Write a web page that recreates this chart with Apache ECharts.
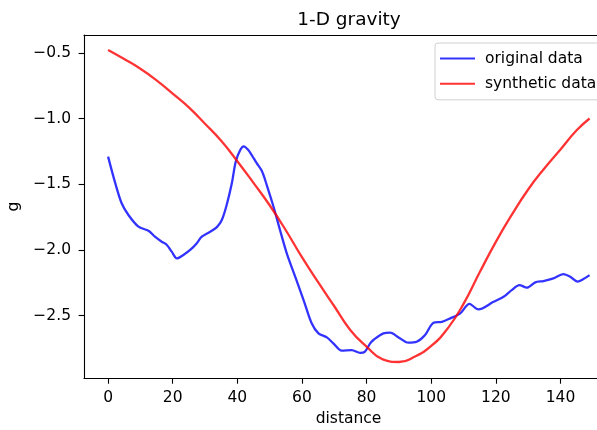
<!DOCTYPE html>
<html>
<head>
<meta charset="utf-8">
<title>1-D gravity</title>
<script src="https://cdn.jsdelivr.net/npm/echarts@6/dist/echarts.min.js"></script>
<style>
  html, body { margin: 0; padding: 0; background: #fff; overflow: hidden; }
  #chart { width: 597px; height: 430px; }
</style>
</head>
<body>
<div id="chart"></div>
<script>
// Observed gravity profile
const originalDistance = [0, 2.2, 4.2, 6.3, 9.4, 12.5, 14.5, 16.6, 18.2, 19.7, 21.3, 23.3, 25.4, 27.4, 29.0, 31.6, 33.6, 35.2, 36.7, 38.3, 39.5, 40.9, 42.0, 43.4, 44.5, 46.0, 47.6, 49.1, 51.2, 53.2, 55.3, 57.9, 60.5, 63.0, 65.1, 67.7, 69.7, 72.3, 75.4, 78.0, 79.5, 81.1, 82.1, 85.2, 87.3, 89.9, 92.9, 95.5, 98.1, 100.7, 103.3, 105.9, 109.0, 111.8, 114.6, 119.3, 122.4, 124.9, 127.3, 129.6, 132.2, 134.7, 137.8, 140.9, 143.0, 145.3, 147.1, 149];
const originalG = [-1.29, -1.49, -1.645, -1.734, -1.823, -1.854, -1.899, -1.937, -1.962, -2.013, -2.064, -2.038, -2.0, -1.95, -1.899, -1.861, -1.828, -1.772, -1.658, -1.493, -1.329, -1.24, -1.212, -1.24, -1.28, -1.34, -1.40, -1.506, -1.671, -1.848, -2.026, -2.203, -2.381, -2.558, -2.634, -2.665, -2.71, -2.766, -2.761, -2.782, -2.773, -2.71, -2.685, -2.634, -2.629, -2.665, -2.705, -2.698, -2.647, -2.553, -2.546, -2.52, -2.482, -2.41, -2.452, -2.394, -2.356, -2.305, -2.267, -2.287, -2.246, -2.236, -2.216, -2.183, -2.203, -2.241, -2.221, -2.191];

// Modelled (synthetic) gravity profile
const syntheticDistance = [0, 5, 10, 15, 20, 25, 30, 35, 40, 45, 50, 55, 60, 65, 70, 75, 80, 85, 90, 95, 100, 105, 110, 115, 120, 125, 130, 135, 140, 145, 149];
const syntheticG = [-0.479, -0.548, -0.622, -0.71, -0.81, -0.915, -1.04, -1.17, -1.325, -1.49, -1.66, -1.85, -2.055, -2.245, -2.428, -2.61, -2.735, -2.832, -2.852, -2.81, -2.73, -2.60, -2.41, -2.17, -1.938, -1.73, -1.54, -1.38, -1.235, -1.09, -1.0];

const xTicks = [0, 20, 40, 60, 80, 100, 120, 140];
const yTicks = [-2.5, -2.0, -1.5, -1.0, -0.5];

const pairs = (xs, ys) => xs.map((x, i) => [x, ys[i]]);
const FONT = 'DejaVu Sans';
const INK = '#000';
const LABEL_SIZE = 15.5;
// visible part of the distance axis; the frame's right side lies past the edge
const X_MIN = -7.45, X_MAX = 151.3;

const spine = { show: true, onZero: false, lineStyle: { color: INK, width: 1.1 } };

const chart = echarts.init(document.getElementById('chart'), null, { renderer: 'canvas' });
chart.setOption({
  animation: false,
  backgroundColor: '#fff',
  title: {
    text: '1-D gravity',
    left: 344,
    textAlign: 'center',
    top: 6,
    textStyle: { fontFamily: FONT, fontSize: 18.5, fontWeight: 'normal', color: INK }
  },
  grid: {
    left: 84, top: 35, right: 0, height: 343.3,
    outerBoundsMode: 'none'
  },
  legend: {
    orient: 'vertical',
    left: 435, top: 43,
    padding: [7.5, 20, 8, 4],
    itemWidth: 35, itemHeight: 14, itemGap: 9.3,
    borderColor: '#d0d0d0', borderWidth: 1, borderRadius: 3,
    backgroundColor: 'rgba(255,255,255,0.8)',
    itemStyle: { opacity: 0 },
    textStyle: { fontFamily: FONT, fontSize: LABEL_SIZE, color: INK, lineHeight: 14, padding: [0, 0, 0, 5] },
    data: ['original data', 'synthetic data']
  },
  xAxis: [
    {
      type: 'value',
      position: 'bottom',
      min: X_MIN, max: X_MAX,
      name: 'distance',
      nameLocation: 'middle',
      nameGap: 33,
      // centre the title under the full frame, which extends past the edge
      nameTextStyle: { fontFamily: FONT, fontSize: LABEL_SIZE, color: INK, padding: [0, 0, 0, 16] },
      axisLine: spine,
      axisTick: { show: true, length: 5.4, customValues: xTicks, lineStyle: { color: INK, width: 1.1 } },
      axisLabel: { customValues: xTicks, margin: 12, fontFamily: FONT, fontSize: LABEL_SIZE, color: INK },
      splitLine: { show: false }
    },
    {
      // top frame line only
      type: 'value',
      position: 'top',
      min: X_MIN, max: X_MAX,
      axisLine: spine,
      axisTick: { show: false },
      axisLabel: { show: false },
      splitLine: { show: false }
    }
  ],
  yAxis: {
    type: 'value',
    min: -2.976, max: -0.365,
    name: 'g',
    nameLocation: 'middle',
    nameRotate: 90,
    nameGap: 54,
    nameTextStyle: { fontFamily: FONT, fontSize: LABEL_SIZE, color: INK },
    axisLine: spine,
    axisTick: { show: true, length: 5.4, customValues: yTicks, lineStyle: { color: INK, width: 1.1 } },
    axisLabel: {
      customValues: yTicks, margin: 13, fontFamily: FONT, fontSize: LABEL_SIZE, color: INK,
      formatter: v => v.toFixed(1).replace('-', '\u2212')
    },
    splitLine: { show: false }
  },
  series: [
    {
      name: 'original data',
      type: 'line',
      data: pairs(originalDistance, originalG),
      symbol: 'none',
      smooth: 0.3,
      color: 'rgba(0,0,255,0.8)',
      lineStyle: { width: 2.3, color: 'rgba(0,0,255,0.8)' },
      z: 2
    },
    {
      name: 'synthetic data',
      type: 'line',
      data: pairs(syntheticDistance, syntheticG),
      symbol: 'none',
      smooth: 0.5,
      color: 'rgba(255,0,0,0.8)',
      lineStyle: { width: 2.3, color: 'rgba(255,0,0,0.8)' },
      z: 3
    }
  ]
});
</script>
</body>
</html>
